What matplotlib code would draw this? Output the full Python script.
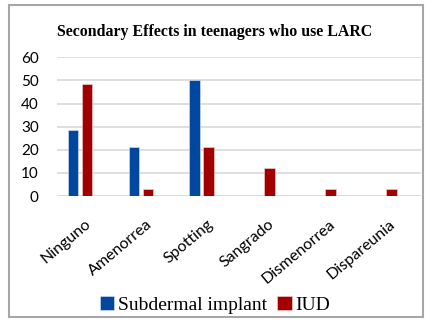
import matplotlib
matplotlib.use("Agg")
import matplotlib.pyplot as plt
import matplotlib.transforms as mtransforms
import numpy as np
from matplotlib.patches import Rectangle

categories = ["Ninguno", "Amenorrea", "Spotting", "Sangrado", "Dismenorrea", "Dispareunia"]
implant = [28.6, 21.4, 50.0, 0, 0, 0]
iud = [48.5, 3.0, 21.2, 12.1, 3.0, 3.0]
series_names = ["Subdermal implant", "IUD"]
yticks = [0, 10, 20, 30, 40, 50, 60]

blue = "#0047A0"
red = "#A20000"

W, H = 432, 322
fig = plt.figure(figsize=(W / 100, H / 100), dpi=100)

# outer border
fig.patches.append(Rectangle((9 / W, 1 - 317 / H), (423 - 9) / W, (317 - 5) / H,
                             transform=fig.transFigure, fill=False,
                             edgecolor="#A6A6A6", linewidth=1.5))

ax_l, ax_r = 56.7, 420.7
ax_t, ax_b = 57.3, 196.0
ax = fig.add_axes([ax_l / W, 1 - ax_b / H, (ax_r - ax_l) / W, (ax_b - ax_t) / H])

x = np.arange(len(categories))
bw = 0.175
off = 0.115
ax.bar(x - off, implant, width=bw, color=blue, edgecolor="#DDE6F3", linewidth=0.4, zorder=3,
       label=series_names[0])
ax.bar(x + off, iud, width=bw, color=red, edgecolor="#F0D8D8", linewidth=0.4, zorder=3,
       label=series_names[1])

ax.set_xlim(-0.383, 5.60)
ax.set_ylim(0, 60)
ax.set_yticks(yticks)
ax.set_yticklabels([str(v) for v in yticks], fontsize=11, family="Lato")
ax.yaxis.grid(True, color="#D9D9D9", linewidth=1.2, zorder=0)
ax.tick_params(axis="y", length=0, pad=13)
ax.tick_params(axis="x", length=0, pad=15)
for s in ax.spines.values():
    s.set_visible(False)
ax.axhline(0, color="#D9D9D9", linewidth=1.2, zorder=2)

ax.set_xticks(x)
ax.set_xticklabels(categories, rotation=40, ha="right", rotation_mode="anchor",
                   fontsize=11.5, family="Lato")
shift = mtransforms.ScaledTranslation(5 / 100, 0, fig.dpi_scale_trans)
for lab in ax.get_xticklabels():
    lab.set_transform(lab.get_transform() + shift)

fig.text(215 / W, 1 - 32 / H, "Secondary Effects in teenagers who use LARC",
         ha="center", va="center", fontsize=11.4, fontweight="bold", family="Liberation Serif")

leg = fig.legend(loc="center", bbox_to_anchor=(215 / W, 1 - 305 / H), ncol=2, frameon=False,
                 prop={"family": "Liberation Serif", "size": 14},
                 handlelength=0.75, handleheight=0.75, handletextpad=0.2, columnspacing=0.5)

fig.savefig("out.png", dpi=100)
